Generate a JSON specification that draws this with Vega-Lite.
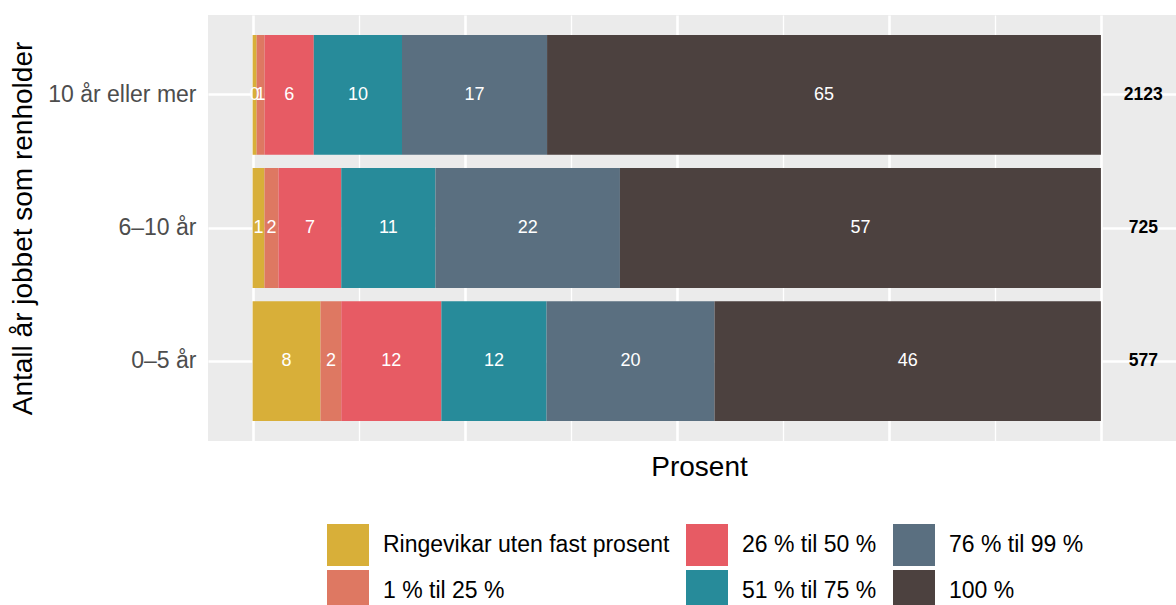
{
  "$schema": "https://vega.github.io/schema/vega-lite/v6.json",
  "width": 982,
  "height": 426,
  "autosize": {"type": "none"},
  "padding": {"left": 208, "top": 15, "right": 0, "bottom": 164},
  "background": "white",
  "config": {
    "font": "Liberation Sans",
    "view": {"fill": "#EBEBEB", "stroke": null},
    "axisY": {
      "titleFontSize": 28, "titleFontWeight": "normal", "titleColor": "#000000",
      "titlePadding": 10,
      "labelFontSize": 23, "labelColor": "#4D4D4D", "labelPadding": 12,
      "ticks": false, "tickSize": 0, "domain": false,
      "grid": true, "gridColor": "#FFFFFF", "gridWidth": 2.6, "bandPosition": 0.5
    },
    "axisX": {
      "titleFontSize": 28, "titleFontWeight": "normal", "titleColor": "#000000",
      "titlePadding": 12,
      "labels": false, "ticks": false, "tickSize": 0, "domain": false,
      "grid": true, "gridColor": "#FFFFFF"
    }
  },
  "datasets": {
    "shares": [
      {"group": "10 år eller mer", "cat": "Ringevikar uten fast prosent", "ord": 1, "pct": 0.47},
      {"group": "10 år eller mer", "cat": "1 % til 25 %", "ord": 2, "pct": 0.94},
      {"group": "10 år eller mer", "cat": "26 % til 50 %", "ord": 3, "pct": 5.8},
      {"group": "10 år eller mer", "cat": "51 % til 75 %", "ord": 4, "pct": 10.4},
      {"group": "10 år eller mer", "cat": "76 % til 99 %", "ord": 5, "pct": 17.1},
      {"group": "10 år eller mer", "cat": "100 %", "ord": 6, "pct": 65.29},
      {"group": "6–10 år", "cat": "Ringevikar uten fast prosent", "ord": 1, "pct": 1.4},
      {"group": "6–10 år", "cat": "1 % til 25 %", "ord": 2, "pct": 1.65},
      {"group": "6–10 år", "cat": "26 % til 50 %", "ord": 3, "pct": 7.4},
      {"group": "6–10 år", "cat": "51 % til 75 %", "ord": 4, "pct": 11.1},
      {"group": "6–10 år", "cat": "76 % til 99 %", "ord": 5, "pct": 21.75},
      {"group": "6–10 år", "cat": "100 %", "ord": 6, "pct": 56.7},
      {"group": "0–5 år", "cat": "Ringevikar uten fast prosent", "ord": 1, "pct": 8.0},
      {"group": "0–5 år", "cat": "1 % til 25 %", "ord": 2, "pct": 2.45},
      {"group": "0–5 år", "cat": "26 % til 50 %", "ord": 3, "pct": 11.8},
      {"group": "0–5 år", "cat": "51 % til 75 %", "ord": 4, "pct": 12.4},
      {"group": "0–5 år", "cat": "76 % til 99 %", "ord": 5, "pct": 19.8},
      {"group": "0–5 år", "cat": "100 %", "ord": 6, "pct": 45.55}
    ],
    "totals": [
      {"group": "10 år eller mer", "n": 2123},
      {"group": "6–10 år", "n": 725},
      {"group": "0–5 år", "n": 577}
    ]
  },
  "layer": [
    {
      "data": {"name": "shares"},
      "mark": {"type": "bar"},
      "encoding": {
        "y": {
          "field": "group", "type": "nominal",
          "sort": ["10 år eller mer", "6–10 år", "0–5 år"],
          "scale": {"paddingInner": 0.1, "paddingOuter": 0.15},
          "title": "Antall år jobbet som renholder"
        },
        "x": {
          "field": "pct", "type": "quantitative", "stack": "zero",
          "scale": {"domain": [-5.26, 110.5], "nice": false, "zero": false},
          "title": "Prosent",
          "axis": {
            "values": [0, 12.5, 25, 37.5, 50, 62.5, 75, 87.5, 100],
            "gridWidth": {"condition": {"test": "datum.value % 25 === 0", "value": 2.6}, "value": 1.3}
          }
        },
        "color": {
          "field": "cat", "type": "nominal",
          "scale": {
            "domain": ["Ringevikar uten fast prosent", "26 % til 50 %", "76 % til 99 %", "1 % til 25 %", "51 % til 75 %", "100 %"],
            "range": ["#D8AF39", "#E75B64", "#5A6F80", "#DE7862", "#278B9A", "#4C413F"]
          },
          "legend": {
            "title": null, "orient": "none", "legendX": 119, "legendY": 509,
            "columns": 3, "direction": "horizontal", "padding": 0,
            "symbolType": "square", "symbolSize": 1764, "symbolStrokeWidth": 0,
            "symbolOpacity": 1,
            "labelFontSize": 23, "labelColor": "#000000", "labelOffset": 14,
            "rowPadding": 4, "columnPadding": 16, "labelLimit": 400
          }
        },
        "order": {"field": "ord", "type": "quantitative"}
      }
    },
    {
      "data": {"name": "shares"},
      "transform": [
        {"stack": "pct", "groupby": ["group"], "sort": [{"field": "ord", "order": "ascending"}], "as": ["x0", "x1"]},
        {"calculate": "(datum.x0 + datum.x1) / 2", "as": "mid"}
      ],
      "mark": {"type": "text", "color": "#FFFFFF", "fontSize": 18, "baseline": "middle", "align": "center"},
      "encoding": {
        "y": {"field": "group", "type": "nominal", "sort": ["10 år eller mer", "6–10 år", "0–5 år"], "title": "Antall år jobbet som renholder"},
        "x": {"field": "mid", "type": "quantitative", "title": "Prosent"},
        "text": {"field": "pct", "type": "quantitative", "format": ".0f"}
      }
    },
    {
      "data": {"name": "totals"},
      "mark": {"type": "text", "color": "#000000", "fontSize": 17.5, "fontWeight": "bold", "baseline": "middle", "align": "center"},
      "encoding": {
        "y": {"field": "group", "type": "nominal", "sort": ["10 år eller mer", "6–10 år", "0–5 år"], "title": "Antall år jobbet som renholder"},
        "x": {"datum": 105, "type": "quantitative", "title": "Prosent"},
        "text": {"field": "n", "type": "nominal"}
      }
    }
  ]
}
